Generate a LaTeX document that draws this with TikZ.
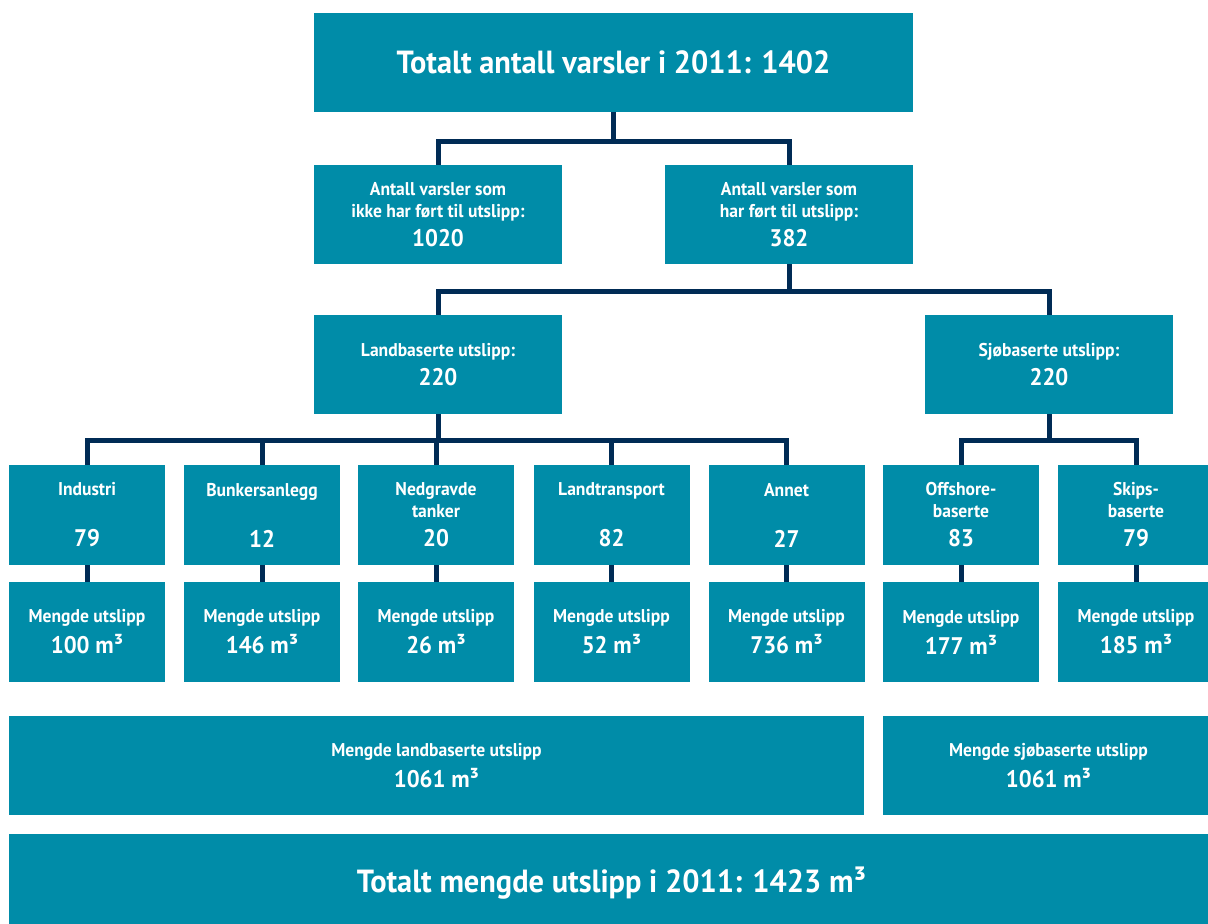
\documentclass[tikz,border=0pt]{standalone}
\usepackage{fontspec}
\setmainfont{PT Sans}[FakeStretch=0.95]
\definecolor{boxteal}{RGB}{0,140,168}
\definecolor{linenavy}{RGB}{0,43,85}
\tikzstyle{box}=[rectangle, fill=boxteal, text=white, align=center, inner sep=0pt, minimum width=248pt, minimum height=99pt, font=\bfseries\fontsize{18.5}{22}\selectfont]
\tikzstyle{kat}=[box, minimum width=156pt, minimum height=100pt]
\tikzstyle{link}=[draw=linenavy, line width=5pt]
\newcommand{\boks}{\node[box]}
\newcommand{\kat}{\node[kat]}
\newcommand{\tall}[1]{{\fontsize{24}{29}\selectfont #1}}

\begin{document}
\begin{tikzpicture}[x=1pt, y=-1pt]
	\useasboundingbox (0,0) rectangle (1208,924);
	\boks (top) at (613.5, 62.5) [minimum width=599pt, font=\bfseries\fontsize{32}{38}\selectfont]{Totalt antall varsler i 2011: 1402};
	\boks (no) at (438, 214.5) {Antall varsler som\\ikke har ført til utslipp:\\[7pt]\tall{1020}};
	\boks (yes) at (789, 214.5) {Antall varsler som\\har ført til utslipp:\\[7pt]\tall{382}};
	\boks (land) at (438, 364.5) {Landbaserte utslipp:\\[7pt]\tall{220}};
	\boks (sjo) at (1049, 364.5) {Sjøbaserte utslipp:\\[7pt]\tall{220}};
	% kategorier
	\kat (ind) at (87, 515) {Industri\\~\\[7pt]\tall{79}};
	\kat (bunk) at (262, 515) {Bunkersanlegg\\~\\[7pt]\tall{12}};
	\kat (nedg) at (436, 515) {Nedgravde\\tanker\\[7pt]\tall{20}};
	\kat (trans) at (611.5, 515) {Landtransport\\~\\[7pt]\tall{82}};
	\kat (annet) at (786.5, 515) {Annet\\~\\[7pt]\tall{27}};
	\kat (off) at (961, 515) {Offshore-\\baserte\\[7pt]\tall{83}};
	\kat (skip) at (1136, 515) {Skips-\\baserte\\[7pt]\tall{79}};
	% mengder
	\kat (ind-m) at (87, 632) {Mengde utslipp\\[7pt]\tall{100 m³}};
	\kat (bunk-m) at (262, 632) {Mengde utslipp\\[7pt]\tall{146 m³}};
	\kat (nedg-m) at (436, 632) {Mengde utslipp\\[7pt]\tall{26 m³}};
	\kat (trans-m) at (611.5, 632) {Mengde utslipp\\[7pt]\tall{52 m³}};
	\kat (annet-m) at (786.5, 632) {Mengde utslipp\\[7pt]\tall{736 m³}};
	\kat (off-m) at (961, 632) {Mengde utslipp\\[7pt]\tall{177 m³}};
	\kat (skip-m) at (1136, 632) {Mengde utslipp\\[7pt]\tall{185 m³}};
	\boks (sumland) at (436.5, 765.5) [minimum width=855pt]{Mengde landbaserte utslipp\\[7pt]\tall{1061 m³}};
	\boks (sumsjo) at (1048.5, 765.5) [minimum width=331pt]{Mengde sjøbaserte utslipp\\[7pt]\tall{1061 m³}};
	\boks (total) at (611.5, 883.5) [minimum width=1205pt, font=\bfseries\fontsize{32}{38}\selectfont]{Totalt mengde utslipp i 2011: 1423 m³};
	\draw[link] (top.south) -- ++(0,29) -| (no.north);
	\draw[link] (top.south) -- ++(0,29) -| (yes.north);
	\draw[link] (yes.south) -- ++(0,27) -| (land.north);
	\draw[link] (yes.south) -- ++(0,27) -| (sjo.north);
	\foreach \k in {ind, bunk, nedg, trans, annet}
		\draw[link] (land.south) -- ++(0,26) -| (\k.north);
	\foreach \k in {off, skip}
		\draw[link] (sjo.south) -- ++(0,26) -| (\k.north);
	\foreach \k in {ind, bunk, nedg, trans, annet, off, skip}
		\draw[link] (\k) -- (\k-m);
\end{tikzpicture}
\end{document}
